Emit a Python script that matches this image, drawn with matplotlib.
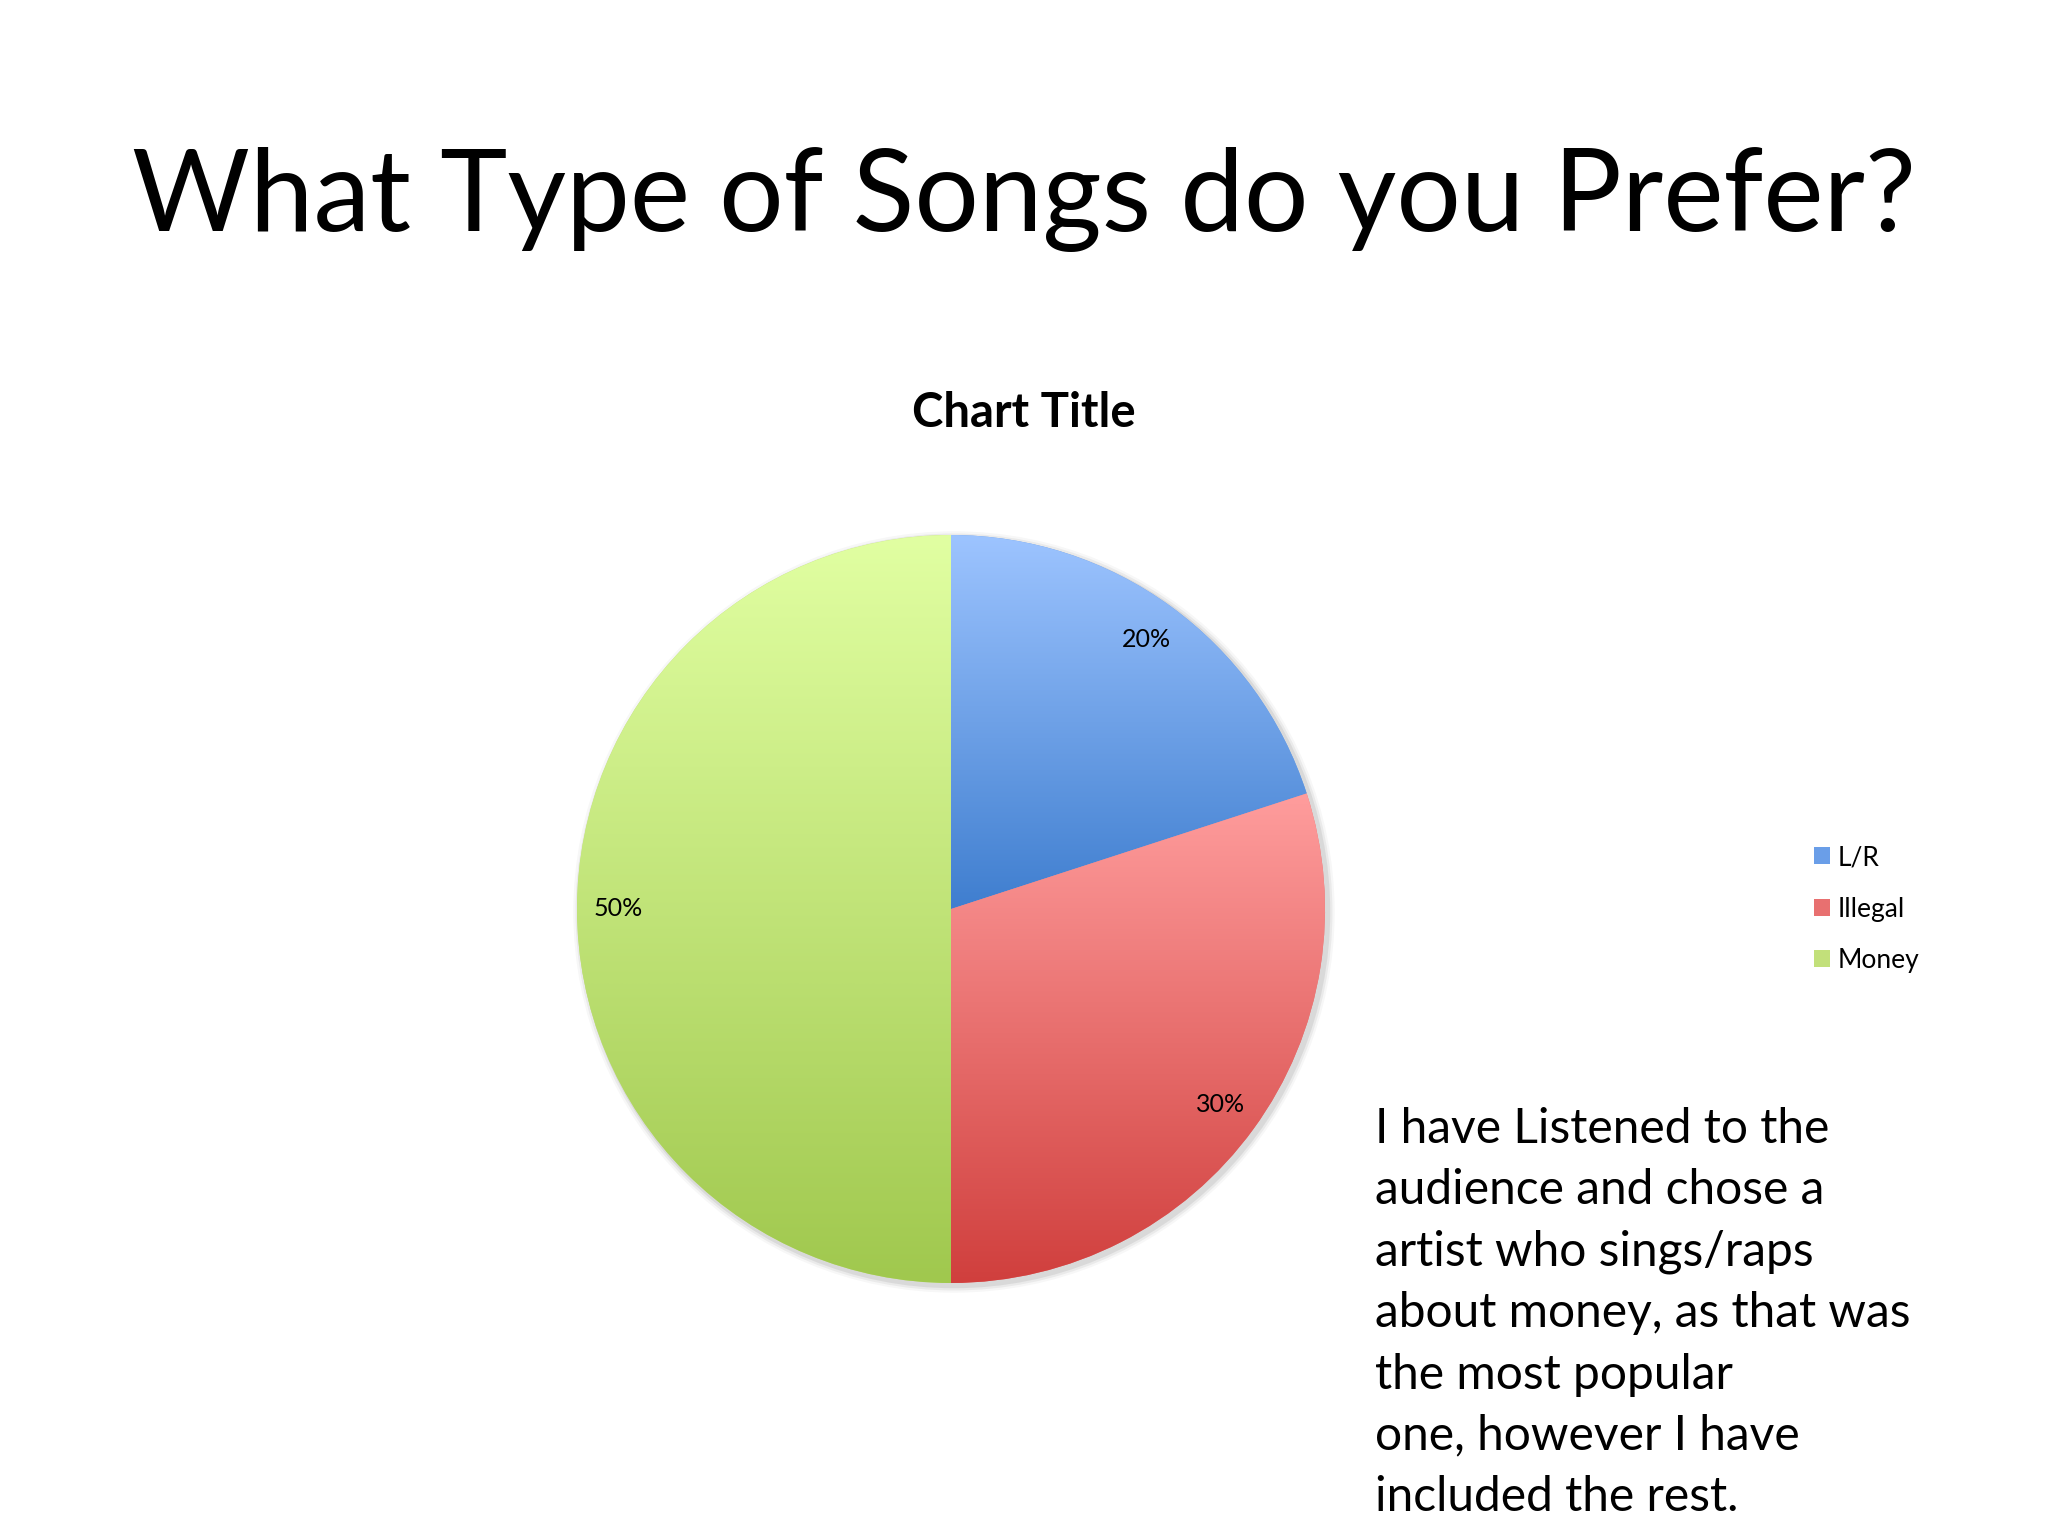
import matplotlib.pyplot as plt
import matplotlib.colors as mcolors
import numpy as np

# data
categories = ["L/R", "Illegal", "Money"]
values = [20, 30, 50]
# gradient colours per slice: (top, bottom)
top_colors = ["#9DC4FF", "#FF9D9D", "#E1FFA2"]
bottom_colors = ["#3F7ECF", "#D03F3D", "#A0C84E"]
mid_colors = ["#6A9EE8", "#E87070", "#C2E07A"]

title = "What Type of Songs do you Prefer?"
chart_title = "Chart Title"
note = ("I have Listened to the\n"
        "audience and chose a\n"
        "artist who sings/raps\n"
        "about money, as that was\n"
        "the most popular\n"
        "one, however I have\n"
        "included the rest.")

W, H = 2048, 1536
fig = plt.figure(figsize=(W / 100, H / 100), dpi=100)
plt.rcParams['font.family'] = ['Lato', 'DejaVu Sans']

# pie axes: centre (951, 909), radius 374 px
cx, cy, r = 951, 909, 374
ax = fig.add_axes([(cx - 1.05 * r) / W, (H - cy - 1.05 * r) / H, 2.1 * r / W, 2.1 * r / H])

# soft shadow, mostly right / bottom
for k, a in zip([1.018, 1.012, 1.006], [0.03, 0.05, 0.07]):
    ax.add_patch(plt.Circle((0.008, -0.008), k, color="#000000", alpha=a, lw=0, zorder=0))

wedges, texts, autotexts = ax.pie(values, colors=mid_colors, startangle=90, counterclock=False,
                                  autopct="%1.0f%%", pctdistance=0.89, radius=1.0,
                                  wedgeprops=dict(linewidth=0),
                                  textprops=dict(fontsize=18, color="black"))

# vertical gradient fill clipped to each wedge
for w, c_top, c_bot in zip(wedges, top_colors, bottom_colors):
    verts = w.get_path().vertices
    x0, x1 = verts[:, 0].min(), verts[:, 0].max()
    y0, y1 = verts[:, 1].min(), verts[:, 1].max()
    cmap = mcolors.LinearSegmentedColormap.from_list("g", [c_bot, c_top])
    grad = np.linspace(1, 0, 256).reshape(-1, 1)
    im = ax.imshow(grad, cmap=cmap, extent=[x0, x1, y0, y1], aspect="auto",
                   origin="upper", zorder=1, interpolation="bicubic")
    im.set_clip_path(w)
    w.set_zorder(1)
for t in autotexts:
    t.set_zorder(5)

ax.set_xlim(-1.05, 1.05)
ax.set_ylim(-1.05, 1.05)
ax.set_aspect("equal")
ax.axis("off")

# titles
fig.text(1024 / W, 1 - 200 / H, title, fontsize=82, ha="center", va="center")
fig.text(1024 / W, 1 - 413 / H, chart_title, fontsize=34, fontweight="bold",
         ha="center", va="center")

# legend
fig.legend(wedges, categories, loc="center left", bbox_to_anchor=(1790 / W, 1 - 909 / H),
           frameon=False, fontsize=19, handlelength=0.6, handleheight=0.6,
           handletextpad=0.3, labelspacing=1.0)

# note text
fig.text(1375 / W, 1 - 1107 / H, note, fontsize=34.5, ha="left", va="top",
         linespacing=1.48)

fig.savefig("out.png", dpi=100, facecolor="white")
